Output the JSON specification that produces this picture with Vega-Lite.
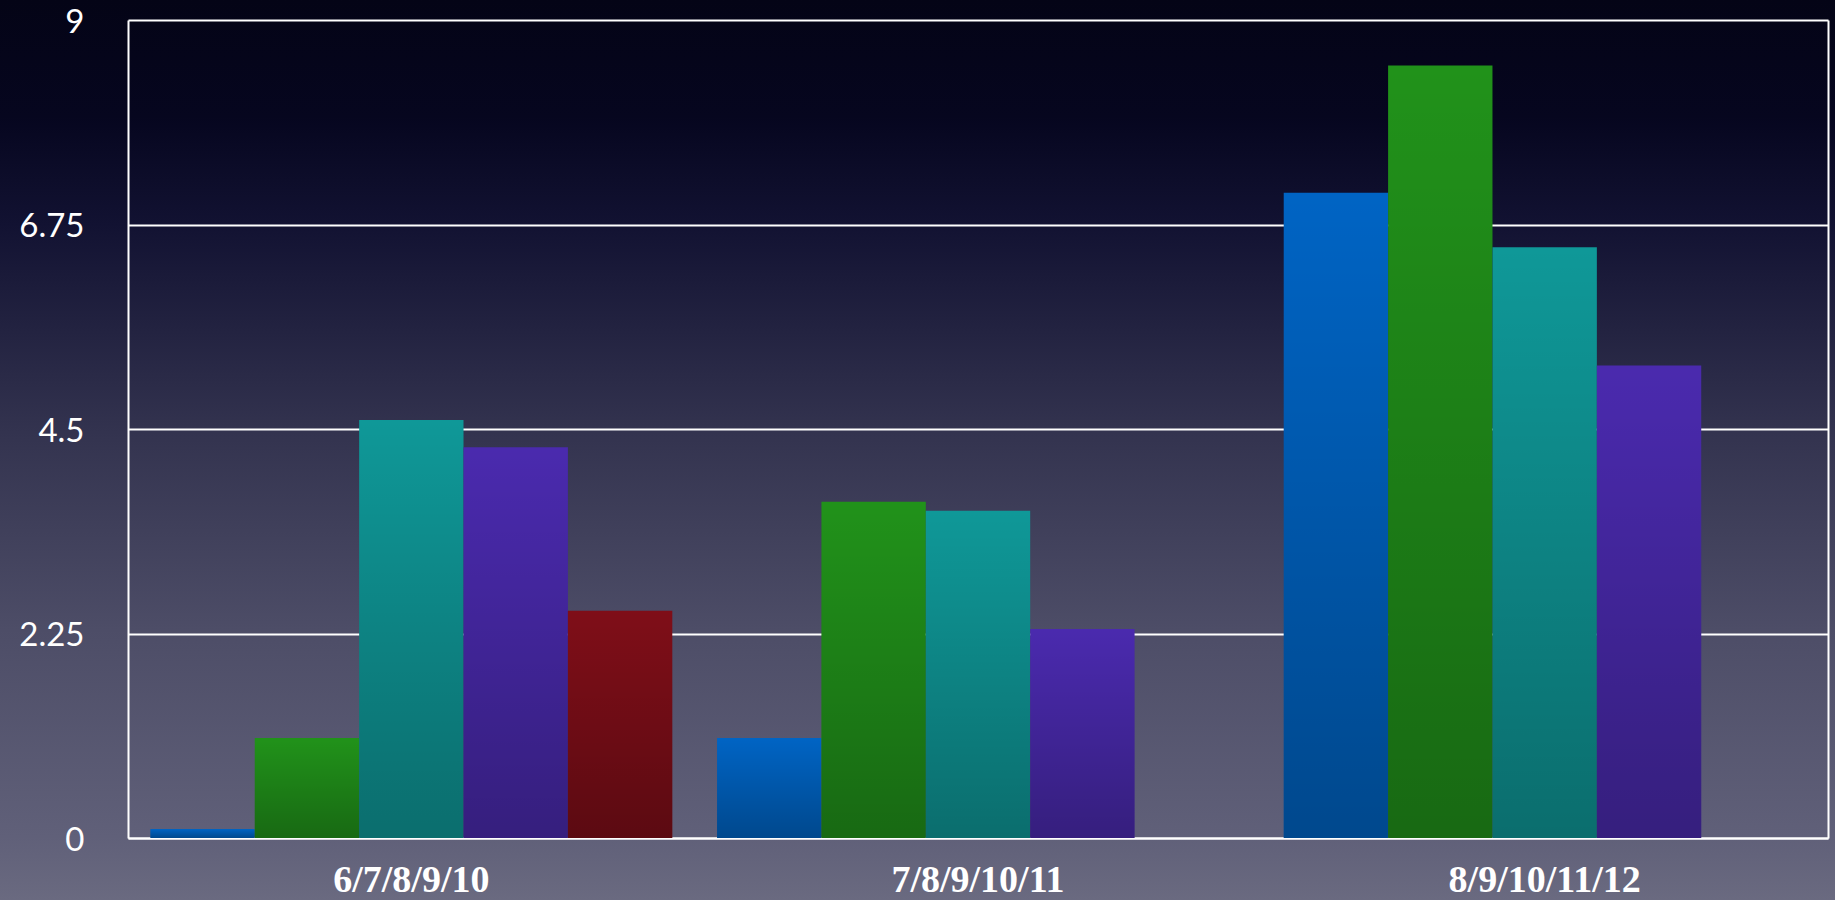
{
  "$schema": "https://vega.github.io/schema/vega-lite/v6.json",
  "width": 1835,
  "height": 900,
  "autosize": {"type": "none"},
  "padding": 0,
  "background": "#2a2a44",
  "view": {
    "stroke": null,
    "fill": {
      "gradient": "linear", "x1": 0, "y1": 0, "x2": 0, "y2": 1,
      "stops": [
        {"offset": 0, "color": "#040416"},
        {"offset": 0.13, "color": "#06061f"},
        {"offset": 0.25, "color": "#121232"},
        {"offset": 0.48, "color": "#33334f"},
        {"offset": 0.7, "color": "#4d4d67"},
        {"offset": 0.93, "color": "#606079"},
        {"offset": 1, "color": "#6a6a80"}
      ]
    }
  },
  "data": {
    "values": [
      {"group": "6/7/8/9/10", "series": "Series 1", "value": 0.1},
      {"group": "6/7/8/9/10", "series": "Series 2", "value": 1.1},
      {"group": "6/7/8/9/10", "series": "Series 3", "value": 4.6},
      {"group": "6/7/8/9/10", "series": "Series 4", "value": 4.3},
      {"group": "6/7/8/9/10", "series": "Series 5", "value": 2.5},
      {"group": "7/8/9/10/11", "series": "Series 1", "value": 1.1},
      {"group": "7/8/9/10/11", "series": "Series 2", "value": 3.7},
      {"group": "7/8/9/10/11", "series": "Series 3", "value": 3.6},
      {"group": "7/8/9/10/11", "series": "Series 4", "value": 2.3},
      {"group": "8/9/10/11/12", "series": "Series 1", "value": 7.1},
      {"group": "8/9/10/11/12", "series": "Series 2", "value": 8.5},
      {"group": "8/9/10/11/12", "series": "Series 3", "value": 6.5},
      {"group": "8/9/10/11/12", "series": "Series 4", "value": 5.2}
    ]
  },
  "encoding": {
    "x": {
      "field": "group", "type": "nominal", "sort": null, "title": null,
      "scale": {"range": [128, 1828], "paddingInner": 0.079, "paddingOuter": 0.0395},
      "axis": {
        "orient": "bottom", "offset": -62, "ticks": false, "grid": false,
        "domain": true, "domainColor": "#ffffff", "domainWidth": 2,
        "labelAngle": 0, "labelColor": "#ffffff", "labelFont": "Liberation Serif",
        "labelFontWeight": "bold", "labelFontSize": 38, "labelBaseline": "alphabetic",
        "labelPadding": 53, "labelLimit": 400
      }
    },
    "xOffset": {
      "field": "series", "type": "nominal",
      "scale": {"domain": ["Series 1", "Series 2", "Series 3", "Series 4", "Series 5"], "paddingInner": 0, "paddingOuter": 0}
    },
    "y": {
      "field": "value", "type": "quantitative", "title": null,
      "scale": {"domain": [0, 9], "range": [838, 20], "nice": false, "zero": true}
    }
  },
  "layer": [
    {
      "mark": {"type": "bar"},
      "encoding": {
        "y": {
          "field": "value", "type": "quantitative", "title": null,
          "axis": {
            "orient": "left", "offset": -128, "values": [0, 2.25, 4.5, 6.75, 9], "format": ".3~f",
            "ticks": false, "grid": true, "gridColor": "#ffffff", "gridWidth": 2, "gridOpacity": 1,
            "domain": true, "domainColor": "#ffffff", "domainWidth": 2,
            "labelColor": "#ffffff", "labelFont": "Lato", "labelFontSize": 33, "labelOffset": 2,
            "labelAlign": "right", "labelBaseline": "middle", "labelPadding": 44
          }
        },
        "color": {
          "field": "series", "type": "nominal", "legend": null,
          "scale": {
            "domain": ["Series 1", "Series 2", "Series 3", "Series 4", "Series 5"],
            "range": ["#0064c4", "#21921a", "#0f9898", "#4a2aae", "#7f0e18"]
          }
        }
      }
    },
    {
      "mark": {
        "type": "bar",
        "color": {
          "gradient": "linear", "x1": 0, "y1": 0, "x2": 0, "y2": 1,
          "stops": [
            {"offset": 0, "color": "rgba(0,0,0,0)"},
            {"offset": 1, "color": "rgba(0,0,0,0.28)"}
          ]
        }
      },
      "encoding": {
        "y": {
          "field": "value", "type": "quantitative", "title": null,
          "axis": {
            "orient": "right", "offset": -7, "labels": false, "ticks": false, "grid": false,
            "domain": true, "domainColor": "#ffffff", "domainWidth": 2
          }
        }
      }
    }
  ],
  "resolve": {"axis": {"y": "independent"}}
}
